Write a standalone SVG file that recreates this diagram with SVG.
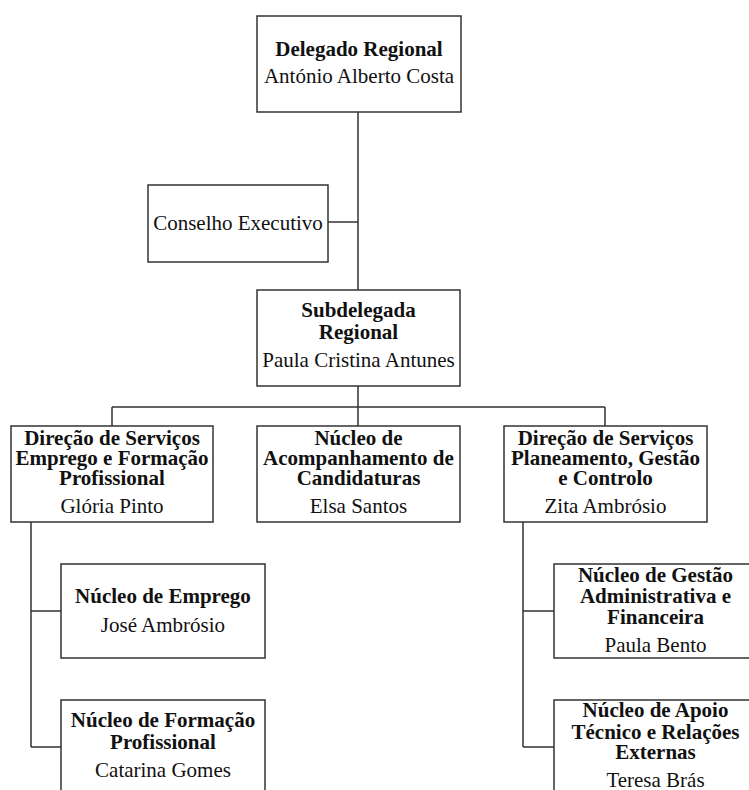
<svg xmlns="http://www.w3.org/2000/svg" width="749" height="790" viewBox="0 0 749 790">
<style>
.box{fill:#fff;stroke:#333;stroke-width:1.5}
.t{font-family:"Liberation Serif","Times New Roman",serif;font-size:21px;fill:#111;text-anchor:middle}
.b{font-weight:bold}
.c{stroke:#333;stroke-width:1.5;fill:none}
</style>
<rect width="749" height="790" fill="#fff"/>
<g id="connectors">
<path class="c" d="M358 112V290M328 222H358M358 386V407M112 407H605M112 407V426M358 407V426M605 407V426"/>
<path class="c" d="M31 522V747M31 611H61M31 747H61"/>
<path class="c" d="M523 522V747M523 611H554M523 747H554"/>
</g>
<g id="delegado">
<rect class="box" x="257" y="16" width="204" height="96"/>
<text class="t b" x="359" y="56">Delegado Regional</text>
<text class="t" x="359" y="83">António Alberto Costa</text>
</g>
<g id="conselho">
<rect class="box" x="148" y="185" width="180" height="77"/>
<text class="t" x="238" y="230">Conselho Executivo</text>
</g>
<g id="subdelegada">
<rect class="box" x="257" y="290" width="203" height="96"/>
<text class="t b" x="358.5" y="317">Subdelegada</text>
<text class="t b" x="358.5" y="339">Regional</text>
<text class="t" x="358.5" y="367">Paula Cristina Antunes</text>
</g>
<g id="dsefp">
<rect class="box" x="11" y="426" width="202" height="96"/>
<text class="t b" x="112" y="445">Direção de Serviços</text>
<text class="t b" x="112" y="465">Emprego e Formação</text>
<text class="t b" x="112" y="485">Profissional</text>
<text class="t" x="112" y="513">Glória Pinto</text>
</g>
<g id="nac">
<rect class="box" x="257" y="426" width="203" height="96"/>
<text class="t b" x="358.5" y="445">Núcleo de</text>
<text class="t b" x="358.5" y="465">Acompanhamento de</text>
<text class="t b" x="358.5" y="485">Candidaturas</text>
<text class="t" x="358.5" y="513">Elsa Santos</text>
</g>
<g id="dspgc">
<rect class="box" x="504" y="426" width="203" height="96"/>
<text class="t b" x="605.5" y="445">Direção de Serviços</text>
<text class="t b" x="605.5" y="465">Planeamento, Gestão</text>
<text class="t b" x="605.5" y="485">e Controlo</text>
<text class="t" x="605.5" y="513">Zita Ambrósio</text>
</g>
<g id="ne">
<rect class="box" x="61" y="564" width="204" height="94"/>
<text class="t b" x="163" y="603">Núcleo de Emprego</text>
<text class="t" x="163" y="632">José Ambrósio</text>
</g>
<g id="nfp">
<rect class="box" x="61" y="700" width="204" height="100"/>
<text class="t b" x="163" y="727">Núcleo de Formação</text>
<text class="t b" x="163" y="749">Profissional</text>
<text class="t" x="163" y="777">Catarina Gomes</text>
</g>
<g id="ngaf">
<rect class="box" x="554" y="564" width="203" height="94"/>
<text class="t b" x="655.5" y="582">Núcleo de Gestão</text>
<text class="t b" x="655.5" y="603">Administrativa e</text>
<text class="t b" x="655.5" y="624">Financeira</text>
<text class="t" x="655.5" y="652">Paula Bento</text>
</g>
<g id="natre">
<rect class="box" x="554" y="700" width="203" height="100"/>
<text class="t b" x="655.5" y="717">Núcleo de Apoio</text>
<text class="t b" x="655.5" y="739">Técnico e Relações</text>
<text class="t b" x="655.5" y="759">Externas</text>
<text class="t" x="655.5" y="787">Teresa Brás</text>
</g>
</svg>
